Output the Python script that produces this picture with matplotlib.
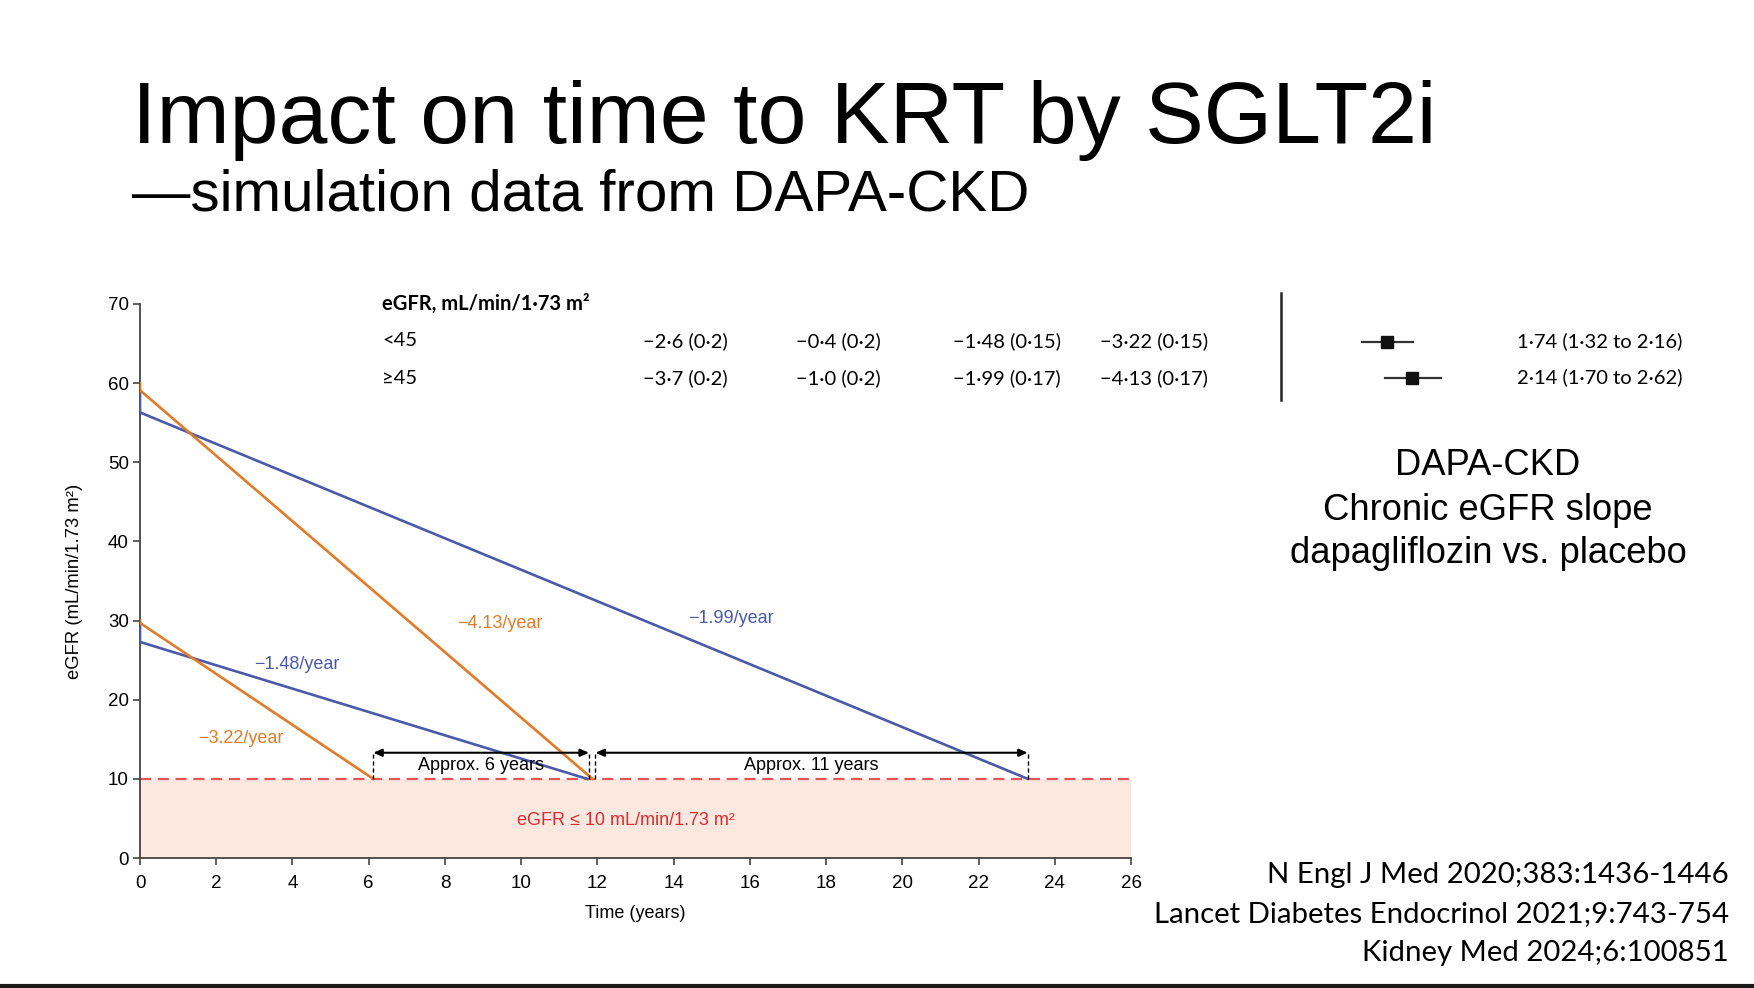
import matplotlib
matplotlib.use("Agg")
import matplotlib.pyplot as plt

W, H = 1754, 988

# ---------------- data ----------------
# simulated eGFR trajectories (x = years, y = eGFR)
dapa_ge45_x = [0, 0, 0, 23.29]
dapa_ge45_y = [59.1, 59.1, 56.3, 10]
plac_ge45_x = [0, 0, 11.87]
plac_ge45_y = [60, 59.1, 10]
dapa_lt45_x = [0, 0, 11.73]
dapa_lt45_y = [29.7, 27.3, 10]
plac_lt45_x = [0, 0, 6.12]
plac_lt45_y = [30, 29.7, 10]

slope_labels = ["\u22124.13/year", "\u22121.99/year", "\u22121.48/year", "\u22123.22/year"]
slope_label_x = [9.45, 15.5, 4.12, 2.65]
slope_label_y = [29.6, 30.3, 24.4, 15.1]

krt_threshold = 10
span_starts = [6.12, 11.95]
span_ends = [11.78, 23.29]
span_labels = ["Approx. 6 years", "Approx. 11 years"]
span_arrow_y = 13.3

xticks = list(range(0, 27, 2))
yticks = list(range(0, 71, 10))

table_header = "eGFR, mL/min/1\u00b773 m\u00b2"
table_rows = ["<45", "\u226545"]
table_values = [
    ["\u22122\u00b76 (0\u00b72)", "\u22120\u00b74 (0\u00b72)", "\u22121\u00b748 (0\u00b715)", "\u22123\u00b722 (0\u00b715)"],
    ["\u22123\u00b77 (0\u00b72)", "\u22121\u00b70 (0\u00b72)", "\u22121\u00b799 (0\u00b717)", "\u22124\u00b713 (0\u00b717)"],
]
forest_est = [1.74, 2.14]
forest_lo = [1.32, 1.70]
forest_hi = [2.16, 2.62]
forest_text = ["1\u00b774 (1\u00b732 to 2\u00b716)", "2\u00b714 (1\u00b770 to 2\u00b762)"]

title = "Impact on time to KRT by SGLT2i"
subtitle = "\u2014simulation data from DAPA-CKD"
side_text = ["DAPA-CKD", "Chronic eGFR slope", "dapagliflozin vs. placebo"]
refs = ["N Engl J Med 2020;383:1436-1446",
        "Lancet Diabetes Endocrinol 2021;9:743-754",
        "Kidney Med 2024;6:100851"]

# ---------------- style ----------------
BLUE = "#4a5aa8"
ORANGE = "#e07b2a"
RED_LINE = "#e8525a"
RED_TEXT = "#de2a30"
FILL = "#fce8df"
ARIAL = ["Liberation Sans", "DejaVu Sans"]
CAL = ["Lato", "DejaVu Sans"]

plt.rcParams['font.family'] = ARIAL

fig = plt.figure(figsize=(W / 100, H / 100), dpi=100)
fig.patch.set_facecolor("white")


def fx(px):
    return px / W


def fy(py):
    return 1 - py / H


# title
fig.text(fx(132), fy(143), title, fontsize=63.3, family=ARIAL, va="baseline", ha="left")
fig.text(fx(132), fy(210), subtitle, fontsize=42, family=ARIAL, va="baseline", ha="left")

# main axes
ax_l, ax_r, ax_b, ax_t = 140, 1131, 858, 304
ax = fig.add_axes([fx(ax_l), fy(ax_b), (ax_r - ax_l) / W, (ax_b - ax_t) / H])
ax.set_xlim(0, 26)
ax.set_ylim(0, 70)

ax.fill_between([0, 26], 0, krt_threshold, color=FILL, zorder=0, lw=0)
ax.axhline(krt_threshold, color=RED_LINE, ls=(0, (5, 3)), lw=1.6, zorder=1)

ax.plot(dapa_ge45_x, dapa_ge45_y, color=BLUE, lw=1.9, zorder=3, solid_joinstyle="miter")
ax.plot(plac_ge45_x, plac_ge45_y, color=ORANGE, lw=1.9, zorder=3)
ax.plot(dapa_lt45_x, dapa_lt45_y, color=BLUE, lw=1.9, zorder=3)
ax.plot(plac_lt45_x, plac_lt45_y, color=ORANGE, lw=1.9, zorder=3)

label_colors = [ORANGE, BLUE, BLUE, ORANGE]
for t, x, y, c in zip(slope_labels, slope_label_x, slope_label_y, label_colors):
    ax.text(x, y, t, color=c, fontsize=13, ha="center", va="center")

for x0, x1, lab in zip(span_starts, span_ends, span_labels):
    for xv in (x0, x1):
        ax.plot([xv, xv], [krt_threshold, span_arrow_y], color="black", lw=1.0,
                ls=(0, (3, 2)), zorder=4)
    ax.annotate("", xy=(x1, span_arrow_y), xytext=(x0, span_arrow_y),
                arrowprops=dict(arrowstyle="<|-|>,head_length=0.5,head_width=0.22",
                                color="black", lw=1.5, shrinkA=0, shrinkB=0),
                zorder=5)
    ax.text((x0 + x1) / 2, 11.7, lab, fontsize=13, ha="center", va="center")

ax.text(12.75, 4.8, "eGFR \u2264 10 mL/min/1.73 m\u00b2", color=RED_TEXT, fontsize=13,
        ha="center", va="center")

for s in ("top", "right"):
    ax.spines[s].set_visible(False)
for s in ("left", "bottom"):
    ax.spines[s].set_color("#444444")
    ax.spines[s].set_linewidth(1.3)
ax.set_xticks(xticks)
ax.set_yticks(yticks)
ax.tick_params(axis="both", direction="out", length=5, width=1.2, color="#444444",
               labelsize=13.5, pad=3)
ax.tick_params(axis="x", pad=7)
ax.set_xlabel("Time (years)", fontsize=13)
ax.set_ylabel("eGFR (mL/min/1.73 m\u00b2)", fontsize=13.3)
ax.xaxis.set_label_coords(0.5, -0.085)
ax.yaxis.set_label_coords(-0.058, 0.5)
ax.patch.set_alpha(0)

# table text
fig.text(fx(382), fy(304), table_header, fontsize=14.5, family=CAL, weight="bold",
         ha="left", va="center")
row_y = [341, 378]
col_x = [643, 796, 953, 1100]
for r, (lab, vals) in enumerate(zip(table_rows, table_values)):
    fig.text(fx(382), fy(row_y[r]), lab, fontsize=14.5, family=CAL, ha="left", va="center")
    for c, v in enumerate(vals):
        fig.text(fx(col_x[c]), fy(row_y[r]), v, fontsize=14.5, family=CAL, ha="left",
                 va="center")

# forest plot
f_left, f_top, f_bot = 1281, 293, 400
px_per_unit = 61
fax = fig.add_axes([fx(f_left), fy(f_bot), 4 * px_per_unit / W, (f_bot - f_top) / H])
fax.set_xlim(0, 4)
fax.set_ylim(-0.61, 2.36)
fax.axis("off")
fax.axvline(0, color="#222222", lw=1.8, clip_on=False)
rows_pos = [1, 0]
for yv, e, lo, hi in zip(rows_pos, forest_est, forest_lo, forest_hi):
    fax.plot([lo, hi], [yv, yv], color="#333333", lw=1.6)
    fax.plot([e], [yv], marker="s", ms=9, color="#111111")
for r, t in enumerate(forest_text):
    fig.text(fx(1517), fy([341, 377][r]), t, fontsize=14.5, family=CAL, ha="left", va="center")

# side text
for t, yb in zip(side_text, [475, 520, 563]):
    fig.text(fx(1488), fy(yb), t, fontsize=26.2, family=ARIAL, ha="center", va="baseline")

for t, yb in zip(refs, [883, 922, 961]):
    fig.text(fx(1729), fy(yb), t, fontsize=21.2, family=CAL, ha="right", va="baseline")

# bottom rule
fig.add_artist(plt.Line2D([0, 1], [fy(986), fy(986)], color="#1a1a1a", lw=3,
                          transform=fig.transFigure))

fig.savefig("out.png", dpi=100)
